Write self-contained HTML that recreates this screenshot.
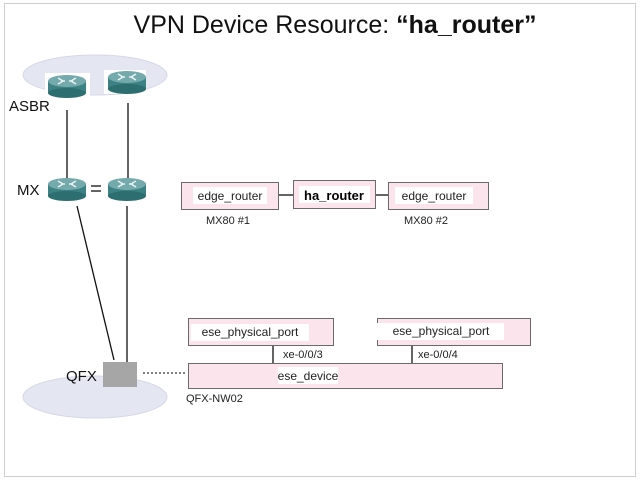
<!DOCTYPE html>
<html><head><style>body{margin:0;background:#fff}svg{display:block;font-family:"Liberation Sans",sans-serif}</style></head><body>
<svg width="640" height="480" viewBox="0 0 640 480">
<defs>
<g id="rt">
<rect x="-19" y="-5" width="38" height="12" fill="#3c8183"/>
<ellipse cx="0" cy="7" rx="19" ry="5" fill="#2d6e70"/>
<ellipse cx="0" cy="-5" rx="19" ry="6" fill="#74aaac"/>
<path d="M-9,-8 l5,3 l-5,3 M9,-8 l-5,3 l5,3 M-2,-5 h-4 M2,-5 h4" stroke="#e8f2f2" stroke-width="1.5" fill="none"/>
</g>
</defs>
<rect x="4.5" y="3.5" width="631" height="473" fill="#fff" stroke="#cfcfcf"/>
<text x="335" y="33" font-size="25" text-anchor="middle" fill="#111">VPN Device Resource: <tspan font-weight="bold">“ha_router”</tspan></text>
<ellipse cx="95" cy="75" rx="72" ry="20" fill="#e4e6f2" stroke="#d6d8e6"/>
<rect x="45" y="73" width="45" height="24" fill="#fff"/>
<rect x="104" y="70" width="42" height="24" fill="#fff"/>
<ellipse cx="95" cy="397" rx="72" ry="21" fill="#e4e6f2" stroke="#d6d8e6"/>
<g stroke="#111" stroke-width="1.3">
<line x1="67" y1="110" x2="67" y2="178"/>
<line x1="128" y1="103" x2="128" y2="178"/>
<line x1="77" y1="206" x2="114" y2="360"/>
<line x1="127" y1="206" x2="127" y2="362"/>
<line x1="91" y1="186" x2="101" y2="186"/><line x1="91" y1="191" x2="101" y2="191"/>
</g>
<use href="#rt" x="67" y="86"/>
<use href="#rt" x="127" y="82"/>
<use href="#rt" x="67" y="189"/>
<use href="#rt" x="127" y="189"/>
<text x="9" y="111" font-size="15" fill="#111">ASBR</text>
<text x="17" y="195" font-size="15" fill="#111">MX</text>
<text x="66" y="381" font-size="15" fill="#111">QFX</text>
<rect x="103" y="362" width="34" height="25" fill="#a6a6a6"/>
<line x1="143" y1="373" x2="185" y2="373" stroke="#333" stroke-width="1.3" stroke-dasharray="2,2"/>
<g stroke="#111" stroke-width="1.3">
<line x1="278" y1="195" x2="293" y2="195"/><line x1="375" y1="195" x2="388" y2="195"/>
<line x1="273" y1="345" x2="273" y2="363"/><line x1="412" y1="345" x2="412" y2="363"/>
</g>
<g fill="#fbe4ec" stroke="#6a6a6a">
<rect x="181.5" y="182.5" width="97" height="27"/>
<rect x="293.5" y="180.5" width="82" height="28"/>
<rect x="388.5" y="182.5" width="100" height="27"/>
<rect x="188.5" y="318.5" width="145" height="27"/>
<rect x="377.5" y="318.5" width="153" height="27"/>
<rect x="188.5" y="363.5" width="314" height="25"/>
</g>
<g fill="#fff">
<rect x="193" y="187" width="74" height="17"/>
<rect x="299" y="186" width="71" height="17"/>
<rect x="395" y="187" width="78" height="17"/>
<rect x="191" y="324" width="118" height="17"/>
<rect x="377" y="323" width="127" height="17"/>
<rect x="278" y="367" width="60" height="17"/>
</g>
<g font-size="12" fill="#222" text-anchor="middle">
<text x="230" y="200">edge_router</text>
<text x="334" y="200" font-weight="bold" font-size="13" fill="#000">ha_router</text>
<text x="434" y="200">edge_router</text>
<text x="250" y="336">ese_physical_port</text>
<text x="441" y="335">ese_physical_port</text>
<text x="308" y="380">ese_device</text>
</g>
<g font-size="11" fill="#222">
<text x="206" y="224">MX80 #1</text>
<text x="404" y="224">MX80 #2</text>
<text x="283" y="358">xe-0/0/3</text>
<text x="418" y="358">xe-0/0/4</text>
<text x="186" y="402">QFX-NW02</text>
</g>
</svg>
</body></html>
